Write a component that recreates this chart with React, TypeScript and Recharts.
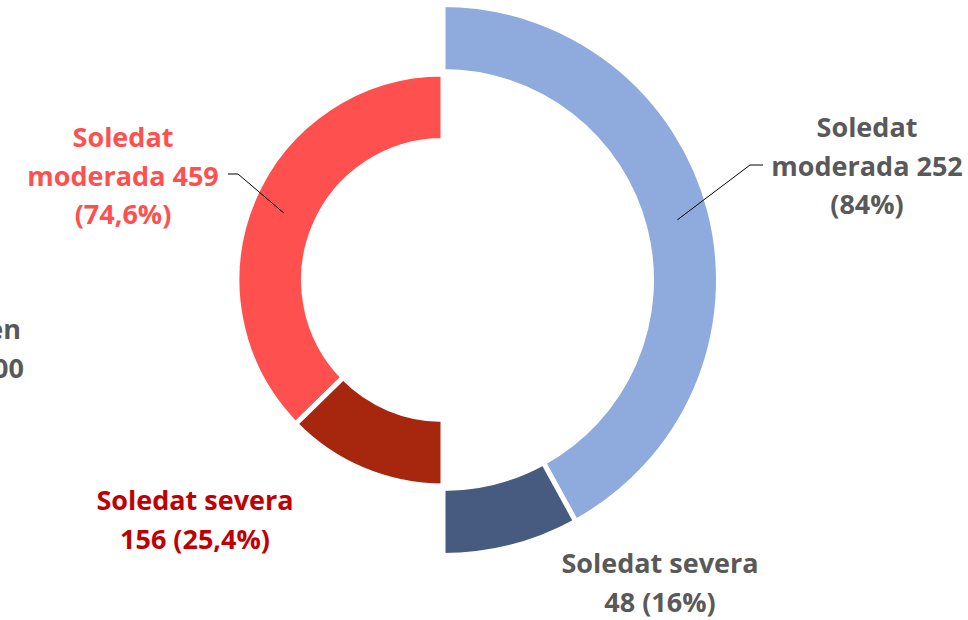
import { PieChart, Pie, Cell } from 'recharts'

// Left half (red) and right half (blue) of the split doughnut
const leftNames = ['Soledat moderada', 'Soledat severa']
const leftValues = [459, 156]
const leftPercents = ['74,6%', '25,4%']

const rightNames = ['Soledat moderada', 'Soledat severa']
const rightValues = [252, 48]
const rightPercents = ['84%', '16%']

const LEFT_COLORS = ['#FF5050', '#A6260E']
const RIGHT_COLORS = ['#8FAADC', '#475A7F']
const LEFT_TEXT = ['#FF5050', '#C00000']
const RIGHT_TEXT = ['#595959', '#595959']

const leftData = leftNames.map((name, i) => ({ name, value: leftValues[i], pct: leftPercents[i] }))
const rightData = rightNames.map((name, i) => ({ name, value: rightValues[i], pct: rightPercents[i] }))

const FONT = '"Open Sans", "DejaVu Sans", sans-serif'
const FONT_SIZE = 27
const LINE_H = 38.5

// label placement: text centre x, first baseline y, and leader elbow (if any)
const LAYOUT: Record<string, { x: number; y: number; elbow?: [number, number, number] }[]> = {
    left: [
        { x: 123, y: 147, elbow: [238, 228, 174] },
        { x: 195, y: 510 },
    ],
    right: [
        { x: 867, y: 137, elbow: [750, 763, 165] },
        { x: 660, y: 573 },
    ],
}

const makeLabel = (side: 'left' | 'right') => (props: any) => {
    const { cx, cy, midAngle, innerRadius, outerRadius, index, payload } = props
    const layout = LAYOUT[side][index]
    const colors = side === 'left' ? LEFT_TEXT : RIGHT_TEXT
    const value = payload?.value ?? props.value
    const pct = payload?.pct
    const lines = index === 0
        ? ['Soledat', `moderada ${value}`, `(${pct})`]
        : ['Soledat severa', `${value} (${pct})`]
    const RAD = Math.PI / 180
    const r = (innerRadius + outerRadius) / 2
    const ax = cx + r * Math.cos(-midAngle * RAD)
    const ay = cy + r * Math.sin(-midAngle * RAD)
    return (
        <g key={`${side}-label-${index}`}>
            {layout.elbow && (
                <polyline
                    points={`${ax},${ay} ${layout.elbow[0]},${layout.elbow[2]} ${layout.elbow[1]},${layout.elbow[2]}`}
                    fill="none"
                    stroke="#000"
                    strokeWidth={1}
                />
            )}
            <text
                x={layout.x}
                y={layout.y}
                textAnchor="middle"
                fill={colors[index]}
                fontFamily={FONT}
                fontWeight={700}
                fontSize={FONT_SIZE}
            >
                {lines.map((l, i) => (
                    <tspan key={i} x={layout.x} dy={i === 0 ? 0 : LINE_H}>{l}</tspan>
                ))}
            </text>
        </g>
    )
}

export default function App() {
    return (
        <div style={{ position: 'absolute', left: 0, top: 0, width: 968, height: 620, background: '#fff' }}>
            <PieChart width={968} height={620} margin={{ top: 0, right: 0, bottom: 0, left: 0 }}>
                <Pie
                    data={rightData}
                    dataKey="value"
                    cx={443}
                    cy={280}
                    startAngle={90}
                    endAngle={-90}
                    innerRadius={208.5}
                    outerRadius={275.5}
                    stroke="#fff"
                    strokeWidth={5}
                    label={makeLabel('right')}
                    labelLine={false}
                    isAnimationActive={false}
                >
                    {rightData.map((d, i) => (
                        <Cell key={`r-${i}`} fill={RIGHT_COLORS[i]} />
                    ))}
                </Pie>
                <Pie
                    data={leftData}
                    dataKey="value"
                    cx={443}
                    cy={280}
                    startAngle={90}
                    endAngle={270}
                    innerRadius={139.5}
                    outerRadius={206}
                    stroke="#fff"
                    strokeWidth={5}
                    label={makeLabel('left')}
                    labelLine={false}
                    isAnimationActive={false}
                >
                    {leftData.map((d, i) => (
                        <Cell key={`l-${i}`} fill={LEFT_COLORS[i]} />
                    ))}
                </Pie>
                {/* partly clipped label at the left edge */}
                <text x={21} y={339} textAnchor="end" fill="#595959" fontFamily={FONT} fontWeight={700} fontSize={FONT_SIZE}>
                    <tspan x={21} dy={0}>Total en</tspan>
                    <tspan x={24} dy={LINE_H}>300</tspan>
                </text>
            </PieChart>
        </div>
    )
}
